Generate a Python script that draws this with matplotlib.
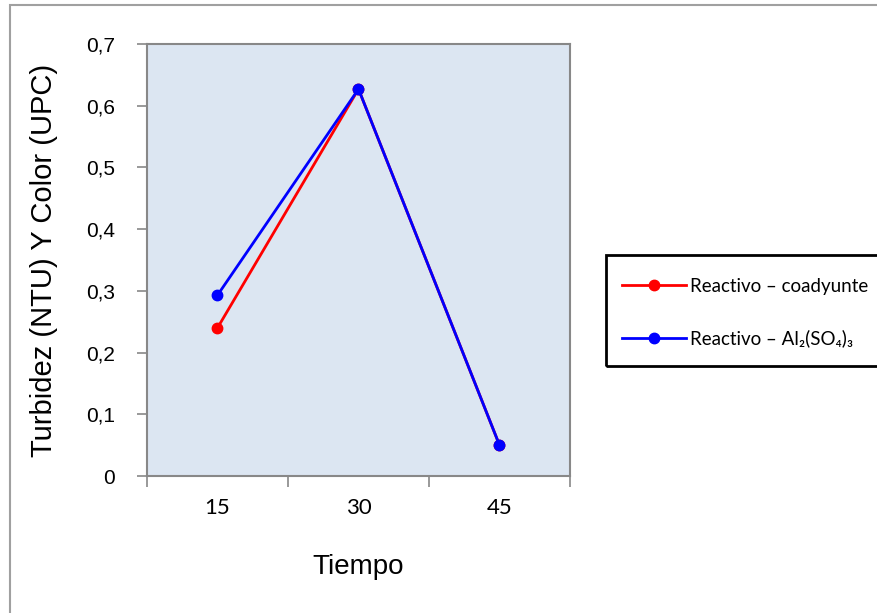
import matplotlib
matplotlib.use("Agg")
import matplotlib.pyplot as plt
from matplotlib.patches import Rectangle

categories = ["15", "30", "45"]
coadyunte = [0.24, 0.627, 0.05]
al2so4 = [0.293, 0.627, 0.05]
yticks = [0, 0.1, 0.2, 0.3, 0.4, 0.5, 0.6, 0.7]
ytick_labels = ["0", "0,1", "0,2", "0,3", "0,4", "0,5", "0,6", "0,7"]
series_names = ["Reactivo – coadyunte", "Reactivo – Al₂(SO₄)₃"]

W, H = 878, 613
fig = plt.figure(figsize=(W/100, H/100), dpi=100)
fig.patch.set_facecolor("white")

# outer chart border
fig.add_artist(Rectangle((10/W, -0.01), 1.1, (H-5)/H + 0.01, transform=fig.transFigure,
                         fill=False, edgecolor="#a0a0a0", linewidth=1.5))

ax = fig.add_axes([147/W, (H-476)/H, (570-147)/W, (476-44)/H])
ax.set_facecolor("#DCE6F2")
x = list(range(len(categories)))
l1, = ax.plot(x, coadyunte, color="#FF0000", lw=2, marker="o", ms=7.5, zorder=3)
l2, = ax.plot(x, al2so4, color="#0000FF", lw=2, marker="o", ms=7.5, zorder=4)

ax.set_xlim(-0.5, len(categories)-0.5)
ax.set_ylim(0, 0.7)
ax.set_yticks(yticks)
ax.set_yticklabels(ytick_labels, family=["Liberation Sans"], fontsize=15)
ax.set_xticks([i - 0.5 for i in range(len(categories)+1)])
ax.set_xticklabels([])
ax.set_xticks(x, minor=True)
ax.set_xticklabels(categories, minor=True, family=["Lato", "DejaVu Sans"], fontsize=16)
ax.tick_params(axis="x", which="minor", length=0, pad=16)
ax.tick_params(axis="x", which="major", length=8, width=1.2, color="#888888", direction="out")
ax.tick_params(axis="y", length=7, width=1.2, color="#888888", direction="out", pad=16)
for s in ax.spines.values():
    s.set_color("#888888")
    s.set_linewidth(1.5)

ax.set_xlabel("Tiempo", family=["Liberation Sans"], fontsize=20, labelpad=26)
ax.set_ylabel("Turbidez (NTU) Y Color (UPC)", family=["Liberation Sans"], fontsize=21, labelpad=20)

# legend frame extends beyond figure
fig.add_artist(Rectangle((606/W, (H-366)/H), 0.5, (366-255)/H, transform=fig.transFigure,
                         fill=False, edgecolor="black", linewidth=2))
leg = fig.legend([l1, l2], series_names, loc="upper left",
                 bbox_to_anchor=(622/W, (H-278)/H), frameon=False, borderpad=0,
                 borderaxespad=0,
                 prop={"family": ["Lato", "DejaVu Sans"], "size": 13.5},
                 handlelength=3.4, handletextpad=0.25, labelspacing=1.85)

fig.savefig("out.png", dpi=100)
